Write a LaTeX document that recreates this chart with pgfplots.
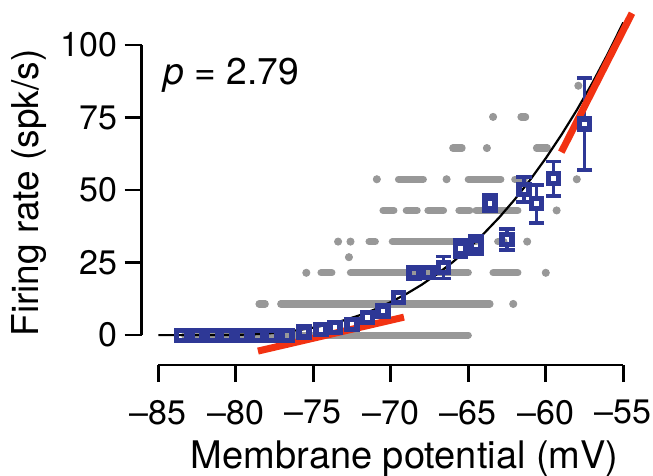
\documentclass[border=0pt]{standalone}
\usepackage{fontspec}
\setmainfont{TeX Gyre Heros}
\usepackage{pgfplots}
\pgfplotsset{compat=1.18}
\definecolor{sqblue}{RGB}{46,56,150}
\definecolor{dotgray}{RGB}{152,152,152}
\definecolor{fitred}{RGB}{242,50,18}
\pgfplotsset{
  gseg/.style={dotgray, line width=3.6bp, line cap=round, forget plot},
  ebar/.style={draw=none, mark=none, forget plot,
    error bars/.cd, y dir=#1, y explicit,
    error bar style={draw=sqblue, line width=1.9bp},
    error mark options={draw=sqblue, rotate=90, mark size=3.8bp, line width=1.9bp}},
}
\begin{document}
\begin{tikzpicture}[x=1bp,y=1bp]
\useasboundingbox (0,0) rectangle (326.5,238);
\begin{axis}[
  at={(70.85bp,55.5bp)}, anchor=south west,
  x=7.75bp, y=1.45bp,
  xmin=-86.07, xmax=-55, ymin=-10.3, ymax=100,
  clip=false,
  axis x line=bottom, axis y line=left,
  axis line style={draw=none},
  xtick={-85,-80,-75,-70,-65,-60,-55},
  xticklabels={–85,–80,–75,–70,–65,–60,–55},
  ytick={0,25,50,75,100},
  yticklabels={0,25,50,75,100},
  tick align=outside,
  major tick length=8.5bp,
  tick style={black, line width=1.3bp},
  ticklabel style={font=\fontsize{17bp}{20bp}\selectfont},
  yticklabel style={inner sep=0pt, anchor=east, xshift=-3.5bp},
  xticklabel style={inner sep=0pt, anchor=north, yshift=-9bp},
]
% axis lines
\draw[black, line width=1.3bp] (axis cs:-85,-10.3) -- (axis cs:-55,-10.3);
\draw[black, line width=1.3bp] (axis cs:-86.07,0) -- (axis cs:-86.07,100);

% gray single-trial points (segments of adjacent dots)
\addplot[gseg] coordinates {(-83.3,0) (-65.0,0)};
\addplot[gseg] coordinates {(-78.5,10.75) (-78.1,10.75)};
\addplot[gseg] coordinates {(-77.1,10.75) (-63.6,10.75)};
\addplot[gseg] coordinates {(-74.5,21.5) (-73.8,21.5)};
\addplot[gseg] coordinates {(-72.6,21.5) (-65.0,21.5)};
\addplot[gseg] coordinates {(-63.4,21.5) (-61.8,21.5)};
\addplot[gseg] coordinates {(-71.4,32.25) (-71.0,32.25)};
\addplot[gseg] coordinates {(-69.9,32.25) (-64.5,32.25)};
\addplot[gseg] coordinates {(-63.1,32.25) (-62.7,32.25)};
\addplot[gseg] coordinates {(-70.5,43) (-69.8,43)};
\addplot[gseg] coordinates {(-69.0,43) (-68.3,43)};
\addplot[gseg] coordinates {(-67.6,43) (-66.6,43)};
\addplot[gseg] coordinates {(-65.6,43) (-64.9,43)};
\addplot[gseg] coordinates {(-64.5,43) (-61.8,43)};
\addplot[gseg] coordinates {(-69.5,53.75) (-67.9,53.75)};
\addplot[gseg] coordinates {(-65.0,53.75) (-62.9,53.75)};
\addplot[gseg] coordinates {(-62.0,53.75) (-61.4,53.75)};
\addplot[gseg] coordinates {(-66.0,64.5) (-65.4,64.5)};
\addplot[gseg] coordinates {(-60.6,64.5) (-59.9,64.5)};
\addplot[gseg] coordinates {(-61.6,75.25) (-61.3,75.25)};
\addplot[only marks, mark=*, mark size=1.8bp, dotgray, mark options={draw=dotgray, fill=dotgray}, forget plot] coordinates {
 (-62.1,10.75) (-75.45,21.5) (-60.0,21.5) (-72.7,26.875)
 (-73.4,32.25) (-72.6,32.25) (-61.2,32.25) (-59.3,43)
 (-70.9,53.75) (-66.4,53.75) (-58.0,53.75) (-63.8,64.5)
 (-63.4,75.25) (-57.9,86)
};

% power-law fit
\addplot[black, line width=1.1bp] coordinates {
 (-85,0) (-84,0) (-83,0) (-82,0) (-81,0.014) (-80,0.086) (-79,0.25)
 (-78,0.55) (-77,1.02) (-76,1.68) (-75,2.57) (-74,3.71) (-73,5.14)
 (-72,6.87) (-71,8.93) (-70,11.4) (-69,14.2) (-68,17.4) (-67,21.1)
 (-66,25.2) (-65,29.8) (-64,35.0) (-63,40.6) (-62,46.8) (-61,53.6)
 (-60,61.0) (-59,69.0) (-58,77.6) (-57,86.9) (-56,97.0) (-55,107.8)
};

% error bars (drawn from the square edges, 2.6 units from the mean)
% upper parts: base = mean + 2.6, length = err - 2.6
\addplot[ebar=plus] coordinates {
 (-66.6,25.9) +- (0,1.2)
 (-65.5,32.6) +- (0,0.4)
 (-64.5,33.7) +- (0,0.6)
 (-63.6,48.1) +- (0,0.2)
 (-62.5,35.5) +- (0,1.0)
 (-61.4,52.7) +- (0,1.7)
 (-60.6,47.9) +- (0,4.0)
 (-59.5,56.5) +- (0,3.4)
 (-57.5,75.4) +- (0,13.2)
};
% lower parts: base = mean - 2.6
\addplot[ebar=minus] coordinates {
 (-66.6,20.7) +- (0,1.2)
 (-65.5,27.4) +- (0,0.4)
 (-64.5,28.5) +- (0,0.6)
 (-63.6,42.9) +- (0,0.2)
 (-62.5,30.3) +- (0,1.0)
 (-61.4,47.5) +- (0,1.7)
 (-60.6,42.7) +- (0,4.0)
 (-59.5,51.3) +- (0,3.4)
 (-57.5,70.2) +- (0,13.2)
};

% binned means
\addplot[only marks, mark=square, mark size=2.5bp, sqblue, mark options={line width=2.6bp, draw=sqblue, fill=none}] coordinates {
 (-83.5,0) (-82.5,0) (-81.5,0) (-80.6,0) (-79.6,0) (-78.6,0) (-77.7,0)
 (-76.7,0) (-75.6,1.1) (-74.5,1.9) (-73.6,2.7) (-72.5,3.8) (-71.5,6.0)
 (-70.5,8.3) (-69.5,12.9) (-68.5,21.4) (-67.6,21.7)
 (-66.6,23.3) (-65.5,30.0) (-64.5,31.1) (-63.6,45.5) (-62.5,32.9)
 (-61.4,50.1) (-60.6,45.3) (-59.5,53.9) (-57.5,72.8)
};

% red asymptotes
\addplot[fitred, line width=3.5bp] coordinates {(-78.57,-5.5) (-69.15,6.2)};
\addplot[fitred, line width=3.5bp] coordinates {(-59.0,63.1) (-54.44,111.0)};

% texts
\node[anchor=base west, inner sep=0pt, font=\fontsize{18.6bp}{22bp}\selectfont] at (axis cs:-84.7,86.5) {\textit{p} = 2.79};
\node[anchor=base, inner sep=0pt, font=\fontsize{19bp}{22bp}\selectfont] at (axis cs:-69.1,-45.9) {Membrane potential (mV)};
\node[anchor=center, rotate=90, inner sep=0pt, font=\fontsize{18.5bp}{22bp}\selectfont] at (axis cs:-93.34,49.0) {Firing rate (spk/s)};
\end{axis}
\end{tikzpicture}
\end{document}
